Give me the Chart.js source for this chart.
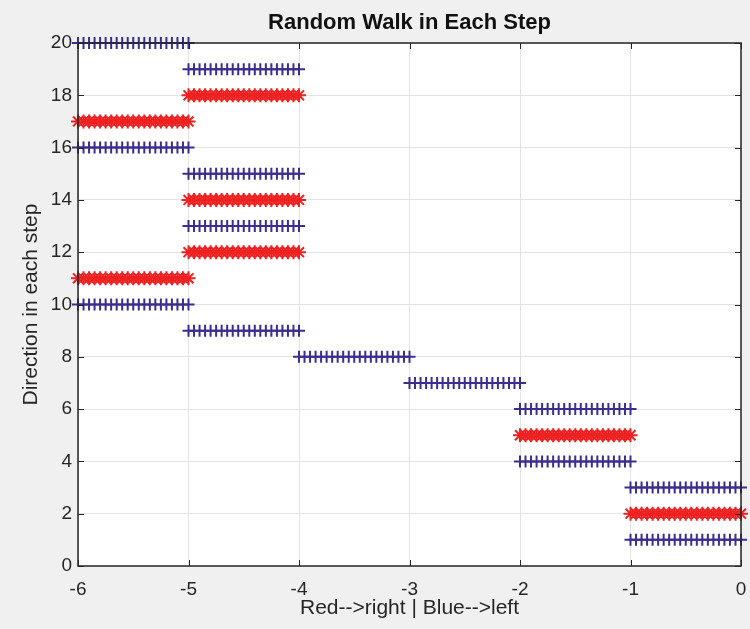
<!DOCTYPE html>
<html><head><meta charset="utf-8">
<script src="https://cdn.jsdelivr.net/npm/chart.js@4"></script>
<style>html,body{margin:0;padding:0;background:#f0f0f0;}#wrap{width:750px;height:629px;}</style>
</head><body><div id="wrap"><canvas id="c" width="750" height="629"></canvas></div>
<script>
// Walk data
const steps = [1,2,3,4,5,6,7,8,9,10,11,12,13,14,15,16,17,18,19,20];
const directions = ['L','R','L','L','R','L','L','L','L','L','R','R','L','R','L','L','R','R','L','L'];
const positionAfter = [-1,0,-1,-2,-1,-2,-3,-4,-5,-6,-5,-4,-5,-4,-5,-6,-5,-4,-5,-6];
const markerOffsets = [0,0.05,0.1,0.15,0.2,0.25,0.3,0.35,0.4,0.45,0.5,0.55,0.6,0.65,0.7,0.75,0.8,0.85,0.9,0.95,1];
const xTicks = [-6,-5,-4,-3,-2,-1,0];
const yTicks = [0,2,4,6,8,10,12,14,16,18,20];

const redPts = [], bluePts = [];
let pos = 0;
steps.forEach((s, i) => {
  const to = positionAfter[i];
  const lo = Math.min(pos, to), hi = Math.max(pos, to);
  const arr = directions[i] === 'R' ? redPts : bluePts;
  markerOffsets.forEach(f => arr.push({x: lo + (hi - lo) * f, y: s}));
  pos = to;
});

const FONT = '"Liberation Sans", Arial, sans-serif';

const frame = {
  id: 'frame',
  beforeDraw(chart) {
    const {ctx, chartArea: a} = chart;
    ctx.save();
    ctx.fillStyle = '#f0f0f0';
    ctx.fillRect(0, 0, chart.width, chart.height);
    ctx.fillStyle = '#ffffff';
    ctx.fillRect(a.left, a.top, a.right - a.left, a.bottom - a.top);
    ctx.restore();
  },
  afterDatasetsDraw(chart) {
    const {ctx, chartArea: a, scales} = chart;
    ctx.save();
    ctx.strokeStyle = '#262626';
    ctx.lineWidth = 1.5;
    ctx.strokeRect(a.left, a.top, a.right - a.left, a.bottom - a.top);
    ctx.lineWidth = 1;
    xTicks.forEach(v => {
      const x = Math.round(scales.x.getPixelForValue(v)) + 0.5;
      ctx.beginPath(); ctx.moveTo(x, a.bottom); ctx.lineTo(x, a.bottom - 6);
      ctx.moveTo(x, a.top); ctx.lineTo(x, a.top + 6); ctx.stroke();
    });
    yTicks.forEach(v => {
      const y = Math.round(scales.y.getPixelForValue(v)) + 0.5;
      ctx.beginPath(); ctx.moveTo(a.left, y); ctx.lineTo(a.left + 6, y);
      ctx.moveTo(a.right, y); ctx.lineTo(a.right - 6, y); ctx.stroke();
    });
    ctx.fillStyle = '#111111';
    ctx.font = 'bold 22px ' + FONT;
    ctx.textAlign = 'center';
    ctx.textBaseline = 'middle';
    ctx.fillText('Random Walk in Each Step', (a.left + a.right) / 2, 23);
    ctx.restore();
  }
};

new Chart(document.getElementById('c'), {
  type: 'scatter',
  data: {
    datasets: [
      {label: 'Red', data: redPts, pointStyle: 'star', pointRadius: 7, pointBorderWidth: 2,
       borderColor: '#ee2020', backgroundColor: '#ee2020', showLine: false, clip: false},
      {label: 'Blue', data: bluePts, pointStyle: 'cross', pointRadius: 6, pointBorderWidth: 2,
       borderColor: '#3a2f90', backgroundColor: '#3a2f90', showLine: false, clip: false}
    ]
  },
  options: {
    responsive: false,
    animation: false,
    devicePixelRatio: 1,
    layout: {padding: {left: 0, right: 9, top: 43, bottom: 0}},
    plugins: {legend: {display: false}, tooltip: {enabled: false}, title: {display: false}},
    scales: {
      x: {
        type: 'linear', min: -6, max: 0,
        afterBuildTicks: s => { s.ticks = xTicks.map(v => ({value: v})); },
        afterFit: s => { s.height = 63; s.paddingLeft = 0; s.paddingRight = 0; },
        grid: {color: '#e3e3e3', lineWidth: 1, drawTicks: false},
        border: {display: false},
        ticks: {color: '#262626', font: {family: FONT, size: 19}, padding: 12, maxRotation: 0},
        title: {display: true, text: 'Red-->right | Blue-->left', color: '#262626',
                font: {family: FONT, size: 21}, padding: {top: 0, bottom: 8}}
      },
      y: {
        type: 'linear', min: 0, max: 20,
        afterBuildTicks: s => { s.ticks = yTicks.map(v => ({value: v})); },
        afterFit: s => { s.width = 78; s.paddingTop = 0; s.paddingBottom = 0; },
        grid: {color: '#e3e3e3', lineWidth: 1, drawTicks: false},
        border: {display: false},
        ticks: {color: '#262626', font: {family: FONT, size: 19}, padding: 6},
        title: {display: true, text: 'Direction in each step', color: '#262626',
                font: {family: FONT, size: 21}, padding: {top: 19, bottom: 0}}
      }
    }
  },
  plugins: [frame]
});
</script>
</body></html>
